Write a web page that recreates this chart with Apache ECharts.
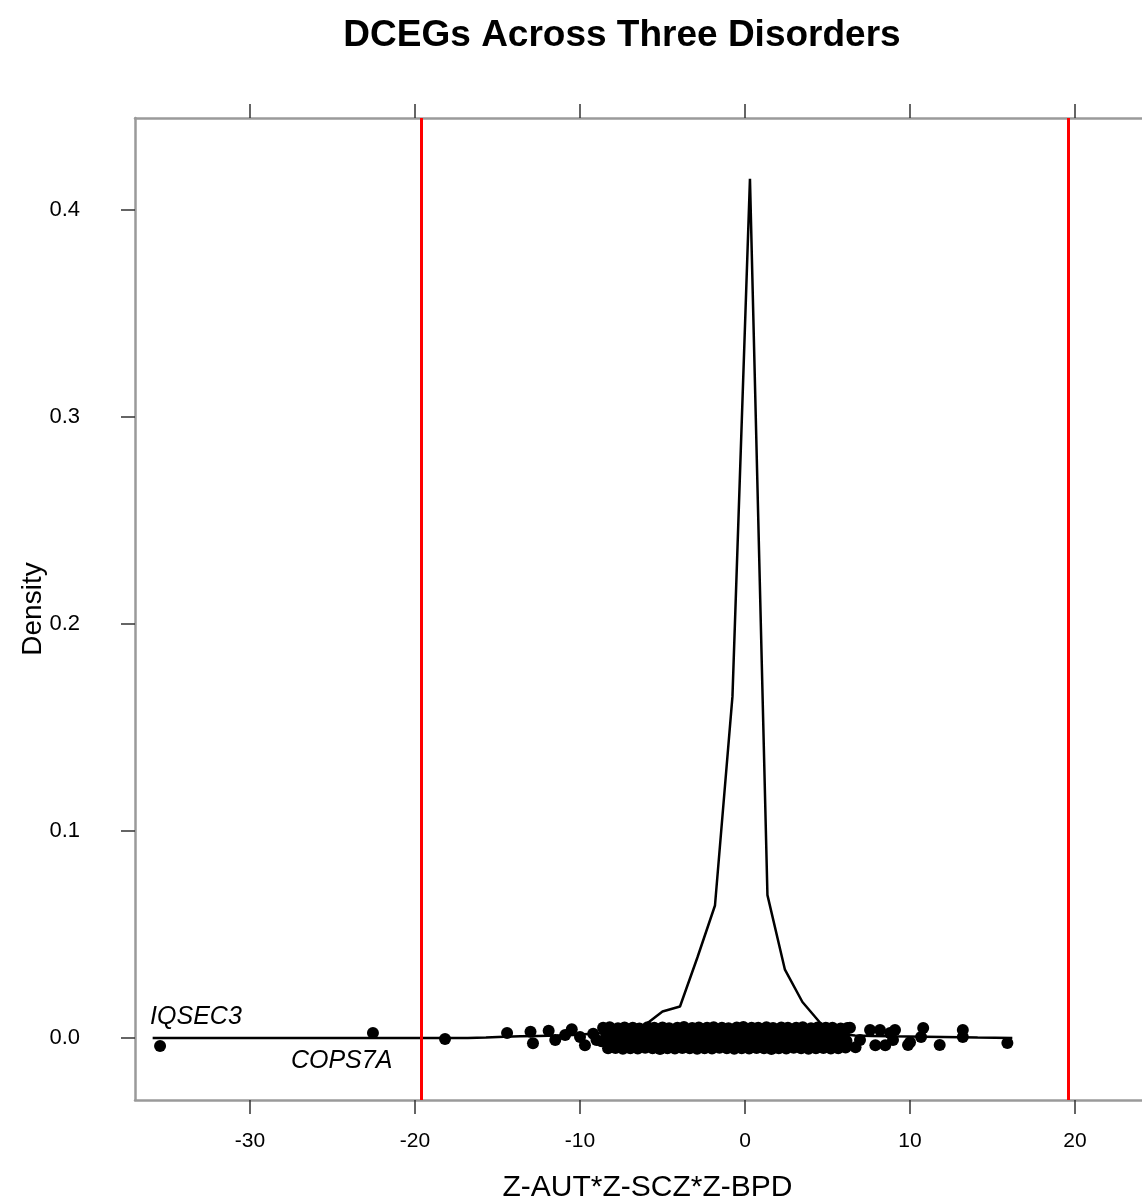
<!DOCTYPE html>
<html>
<head>
<meta charset="utf-8">
<script src="https://cdn.jsdelivr.net/npm/echarts@6/dist/echarts.min.js"></script>
<style>
  html, body { margin: 0; padding: 0; background: #fff; }
  #chart { width: 1142px; height: 1202px; }
</style>
</head>
<body>
<div id="chart"></div>
<script>
// axis ticks
const xTicks = [-30, -20, -10, 0, 10, 20]
const yTicks = [0, 0.1, 0.2, 0.3, 0.4]

// density curve
const densityX = [-35.9, -16.8, -15.7, -14.6, -13.6, -12.5, -11.4, -10.4, -9.3, -8.2, -7.1, -6.06, -5.0, -3.94, -2.88, -1.82, -0.76, 0.3, 1.36, 2.42, 3.48, 4.54, 5.6, 6.66, 7.7, 8.8, 9.9, 10.9, 12.0, 13.1, 14.1, 16.2]
const densityY = [0, 0, 0.0002, 0.0006, 0.0008, 0.001, 0.0012, 0.0015, 0.002, 0.0025, 0.003, 0.0063, 0.0128, 0.0152, 0.039, 0.064, 0.165, 0.415, 0.069, 0.033, 0.0174, 0.0075, 0.002, 0.0012, 0.001, 0.0008, 0.0007, 0.0006, 0.0005, 0.0004, 0.0002, 0]

// labelled genes
const geneNames = ['IQSEC3', 'COPS7A']
const geneX = [-35.45, -22.55]
const geneY = [-0.0039, 0.0024]

// jittered points
const pointX = [
  -18.18, -14.42, -13.0, -12.85, -11.9, -11.5, -10.9, -10.5, -10.0, -9.7, -9.2, -9.0,
  -8.6, -8.2, -7.7, -7.3, -6.8, -6.4, -5.9, -5.5, -5.0, -4.6, -4.1, -3.7, -3.2, -2.8, -2.3, -1.9, -1.4, -1.0, -0.5, -0.1, 0.4, 0.8, 1.3, 1.7, 2.2, 2.6, 3.1, 3.5, 4.0, 4.4, 4.9, 5.3, 5.8, 6.2,
  -8.4, -7.95, -7.5, -7.05, -6.6, -6.15, -5.7, -5.25, -4.8, -4.35, -3.9, -3.45, -3.0, -2.55, -2.1, -1.65, -1.2, -0.75, -0.3, 0.15, 0.6, 1.05, 1.5, 1.95, 2.4, 2.85, 3.3, 3.75, 4.2, 4.65, 5.1, 5.55, 6.0,
  -8.7, -8.25, -7.8, -7.35, -6.9, -6.45, -6.0, -5.55, -5.1, -4.65, -4.2, -3.75, -3.3, -2.85, -2.4, -1.95, -1.5, -1.05, -0.6, -0.15, 0.3, 0.75, 1.2, 1.65, 2.1, 2.55, 3.0, 3.45, 3.9, 4.35, 4.8, 5.25, 5.7, 6.15,
  -8.3, -7.85, -7.4, -6.95, -6.5, -6.05, -5.6, -5.15, -4.7, -4.25, -3.8, -3.35, -2.9, -2.45, -2.0, -1.55, -1.1, -0.65, -0.2, 0.25, 0.7, 1.15, 1.6, 2.05, 2.5, 2.95, 3.4, 3.85, 4.3, 4.75, 5.2, 5.65, 6.1,
  6.36, 6.7, 6.97, 7.58, 7.9, 8.18, 8.5, 8.79, 8.97, 9.09, 9.88, 10.0, 10.67, 10.8, 11.8, 13.2, 13.2, 15.9
]
const pointY = [
  -0.0005, 0.0024, 0.003, -0.0025, 0.0035, -0.001, 0.0015, 0.0042, 0.0005, -0.0035, 0.002, -0.001,
  0.0049, 0.0052, 0.0047, 0.0051, 0.0050, 0.0046, 0.0052, 0.0049, 0.0051, 0.0047, 0.0050, 0.0053, 0.0048, 0.0051, 0.0049, 0.0052, 0.0050, 0.0047, 0.0051, 0.0053, 0.0049, 0.0050, 0.0052, 0.0048, 0.0051, 0.0049, 0.0050, 0.0052, 0.0047, 0.0051, 0.0049, 0.0050, 0.0046, 0.0048,
  0.0018, 0.0016, 0.0019, 0.0017, 0.0015, 0.0018, 0.0020, 0.0016, 0.0017, 0.0019, 0.0015, 0.0018, 0.0017, 0.0016, 0.0019, 0.0018, 0.0015, 0.0017, 0.0020, 0.0016, 0.0018, 0.0017, 0.0019, 0.0015, 0.0018, 0.0016, 0.0017, 0.0019, 0.0018, 0.0016, 0.0017, 0.0015, 0.0018,
  -0.0016, -0.0018, -0.0015, -0.0017, -0.0019, -0.0016, -0.0018, -0.0017, -0.0015, -0.0019, -0.0016, -0.0018, -0.0017, -0.0015, -0.0018, -0.0016, -0.0019, -0.0017, -0.0016, -0.0018, -0.0015, -0.0017, -0.0019, -0.0016, -0.0018, -0.0017, -0.0015, -0.0018, -0.0016, -0.0019, -0.0017, -0.0016, -0.0018, -0.0015,
  -0.0050, -0.0048, -0.0052, -0.0049, -0.0051, -0.0047, -0.0050, -0.0053, -0.0049, -0.0051, -0.0048, -0.0050, -0.0052, -0.0049, -0.0051, -0.0047, -0.0050, -0.0052, -0.0049, -0.0051, -0.0048, -0.0050, -0.0053, -0.0049, -0.0051, -0.0047, -0.0050, -0.0052, -0.0049, -0.0048, -0.0051, -0.0050, -0.0046,
  0.005, -0.0045, -0.001, 0.0039, -0.0035, 0.0039, -0.0035, 0.0024, -0.001, 0.0039, -0.0034, -0.002, 0.0005, 0.0048, -0.0034, 0.0039, 0.0005, -0.0024
]

// significance cut-offs
const cutoffs = [-19.6, 19.6]

const font = 'Liberation Sans, Arial, sans-serif'

const chart = echarts.init(document.getElementById('chart'))

const frameLine = { onZero: false, lineStyle: { color: '#9a9a9a', width: 2.5 } }

const xAxisBase = {
  type: 'value',
  min: -36.97,
  max: 24.06,
  splitLine: { show: false },
  axisLine: frameLine,
  axisTick: {
    customValues: xTicks,
    length: 14,
    lineStyle: { color: '#333', width: 1.5 }
  }
}

const option = {
  animation: false,
  backgroundColor: '#fff',
  title: {
    text: 'DCEGs Across Three Disorders',
    left: 617,
    top: 12,
    textAlign: 'center',
    textStyle: { fontFamily: font, fontSize: 37, fontWeight: 'bold', color: '#000' }
  },
  grid: { left: 135, top: 118, bottom: 102, right: 0, outerBoundsMode: 'none' },
  xAxis: [
    Object.assign({}, xAxisBase, {
      position: 'bottom',
      name: 'Z-AUT*Z-SCZ*Z-BPD',
      nameLocation: 'middle',
      nameGap: 73,
      nameMoveOverlap: false,
      nameTextStyle: { fontFamily: font, fontSize: 30, color: '#000', padding: [0, 0, 0, 18] },
      axisLabel: {
        customValues: xTicks,
        margin: 31,
        fontFamily: font,
        fontSize: 21,
        color: '#000'
      }
    }),
    Object.assign({}, xAxisBase, {
      position: 'top',
      axisLabel: { show: false }
    })
  ],
  yAxis: [
    {
      type: 'value',
      position: 'left',
      min: -0.02995,
      max: 0.4444,
      splitLine: { show: false },
      axisLine: frameLine,
      axisTick: {
        customValues: yTicks,
        length: 14,
        lineStyle: { color: '#333', width: 1.5 }
      },
      axisLabel: {
        customValues: yTicks,
        margin: 55,
        fontFamily: font,
        fontSize: 22,
        color: '#000',
        formatter: v => v.toFixed(1)
      },
      name: 'Density',
      nameLocation: 'middle',
      nameGap: 88,
      nameMoveOverlap: false,
      nameTextStyle: { fontFamily: font, fontSize: 28, color: '#000' }
    }
  ],
  series: [
    {
      type: 'line',
      data: densityX.map((x, i) => [x, densityY[i]]),
      symbol: 'none',
      lineStyle: { color: '#000', width: 2.5 },
      z: 3,
      markLine: {
        silent: true,
        symbol: ['none', 'none'],
        label: { show: false },
        lineStyle: { color: '#ff0000', width: 3, type: 'solid' },
        data: cutoffs.map(c => ({ xAxis: c }))
      }
    },
    {
      type: 'scatter',
      data: pointX.map((x, i) => [x, pointY[i]]),
      symbol: 'circle',
      symbolSize: 12,
      itemStyle: { color: '#000', opacity: 1 },
      z: 4
    },
    {
      type: 'scatter',
      data: geneX.map((x, i) => ({
        value: [x, geneY[i]],
        label: {
          show: true,
          formatter: geneNames[i],
          position: i === 0 ? [-4, -36] : [-76, 22],
          align: 'left',
          verticalAlign: 'top',
          fontFamily: font,
          fontStyle: 'italic',
          fontSize: 25,
          color: '#000'
        }
      })),
      symbol: 'circle',
      symbolSize: 12,
      itemStyle: { color: '#000', opacity: 1 },
      z: 4
    }
  ]
}

chart.setOption(option)
</script>
</body>
</html>
